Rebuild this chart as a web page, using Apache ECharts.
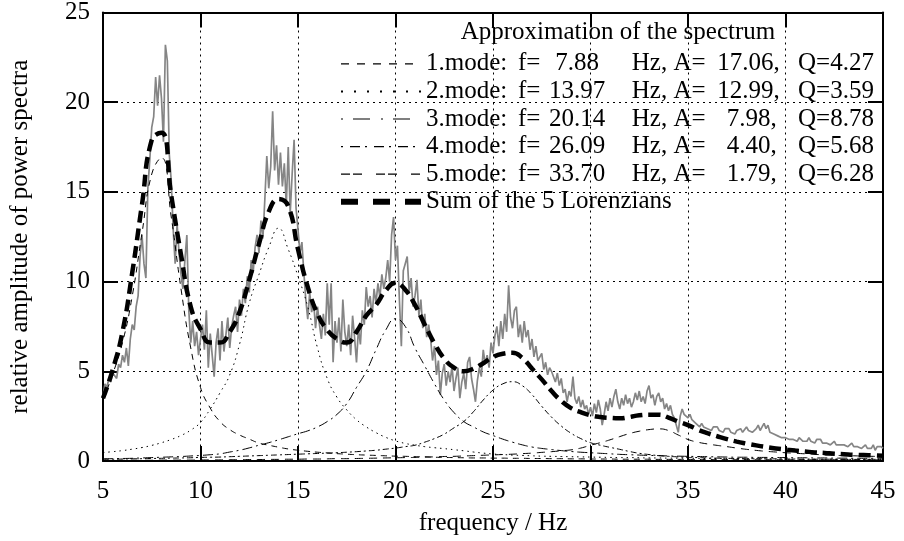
<!DOCTYPE html>
<html>
<head>
<meta charset="utf-8">
<script src="https://cdn.jsdelivr.net/npm/echarts@6/dist/echarts.min.js"></script>
<style>
  html, body { margin: 0; padding: 0; background: #fff; }
  #chart { width: 904px; height: 541px; }
</style>
</head>
<body>
<div id="chart"></div>
<script>
// measured spectrum, 5.0 .. 45.0 Hz in 0.1 Hz steps
const measuredStart = 5;
const measuredStep = 0.1;
const measured = [
  3.6, 4.3, 4.1, 4.6, 4.4, 4.9, 5.0, 4.6, 5.4, 5.2,
  5.9, 5.5, 6.3, 5.3, 6.8, 7.6, 7.3, 8.6, 9.2, 11.4,
  12.6, 11.0, 10.2, 15.2, 16.8, 18.6, 19.2, 21.4, 19.8, 21.5,
  20.2, 17.8, 23.2, 22.3, 17.1, 15.6, 12.9, 11.0, 13.2, 11.6,
  10.4, 9.6, 11.2, 12.6, 8.4, 6.6, 7.8, 6.4, 7.2, 5.9,
  6.8, 7.6, 6.2, 8.4, 5.2, 7.1, 5.9, 4.7, 6.6, 7.4,
  5.6, 7.8, 6.1, 7.0, 8.0, 6.3, 7.5, 8.1, 8.6, 7.2,
  9.0, 8.1, 9.6, 8.8, 10.3, 9.4, 11.2, 10.5, 11.9, 12.6,
  11.6, 13.4, 12.4, 14.6, 17.0, 15.2, 16.4, 19.5, 16.2, 17.6,
  15.4, 17.2, 15.3, 16.6, 14.2, 17.5, 13.8, 16.0, 17.9, 14.1,
  12.9, 11.6, 12.2, 10.5, 9.0, 7.9, 9.4, 8.3, 8.9, 7.4,
  8.6, 7.6, 6.8, 8.2, 7.0, 9.9, 7.6, 9.9, 5.5, 7.8,
  6.6, 8.0, 6.1, 9.0, 7.2, 6.4, 7.6, 5.9, 8.1, 6.9,
  5.5, 7.4, 6.5, 8.4, 7.6, 9.7, 8.6, 9.2, 8.0, 9.6,
  8.8, 9.9, 9.1, 10.4, 9.6, 10.2, 11.2, 10.0, 12.6, 13.6,
  11.2, 12.0, 9.0, 6.4, 10.6, 11.0, 11.4, 9.4, 10.2, 8.6,
  9.2, 10.1, 8.1, 9.0, 7.4, 8.2, 6.9, 7.6, 6.8, 5.6,
  6.4, 4.8, 5.6, 3.7, 4.9, 5.4, 4.2, 5.0, 4.4, 5.3,
  3.9, 4.6, 5.2, 3.5, 4.4, 4.9, 4.0, 5.5, 5.8, 4.6,
  4.0, 3.3, 4.5, 5.2, 4.7, 6.2, 5.4, 5.9, 5.2, 6.6,
  6.0, 7.0, 7.5, 6.4, 7.8, 6.8, 8.2, 7.2, 9.8, 8.0,
  7.4, 8.4, 8.6, 6.9, 7.6, 6.6, 7.8, 6.9, 7.3, 6.2,
  6.8, 5.8, 6.4, 5.6, 5.5, 6.0, 5.1, 5.5, 4.8, 5.2,
  5.0, 5.1, 4.4, 4.9, 4.2, 4.6, 3.8, 4.0, 3.3, 3.9,
  3.6, 4.7, 3.5, 3.2, 3.6, 3.0, 3.4, 2.9, 3.1, 2.6,
  3.0, 2.5, 3.2, 2.7, 3.4, 2.9, 2.0, 2.6, 3.3, 2.8,
  3.5, 3.0, 3.6, 4.0, 3.3, 2.9, 3.5, 3.1, 3.7, 3.2,
  3.5, 3.0, 3.3, 3.8, 3.4, 3.9, 3.3, 3.6, 3.2, 3.9,
  4.2, 3.5, 3.7, 3.1, 3.6, 3.8, 3.3, 3.5, 2.9, 3.2,
  2.8, 3.1, 2.6, 2.4, 2.0, 1.6, 2.5, 2.9, 2.6, 2.7,
  2.4, 2.6, 2.3, 2.4, 2.1, 2.2, 1.9, 2.1, 1.9, 2.0,
  1.8, 1.9, 1.7, 1.9, 1.8, 1.9, 1.7, 1.8, 1.6, 1.8,
  1.7, 1.8, 1.6, 1.7, 1.5, 1.7, 1.6, 1.8, 1.6, 1.7,
  1.9, 1.7, 1.8, 1.6, 1.7, 1.8, 2.0, 1.7, 1.9, 2.1,
  1.8, 2.0, 1.6, 1.7, 1.5, 1.6, 1.4, 1.5, 1.3, 1.4,
  1.3, 1.4, 1.2, 1.3, 1.2, 1.3, 1.1, 1.3, 1.2, 1.1,
  1.2, 1.1, 1.3, 1.1, 1.2, 1.0, 1.2, 1.1, 1.2, 1.0,
  1.1, 1.0, 1.1, 0.9, 1.0, 1.1, 0.9, 1.0, 0.9, 1.0,
  0.9, 1.0, 0.8, 0.9, 1.0, 0.8, 0.9, 0.8, 0.9, 0.7,
  0.8, 0.9, 0.7, 0.8, 0.7, 0.9, 0.6, 0.8, 0.7, 0.8,
  0.7
];

// fitted curves, 5.0 .. 45.0 Hz in 0.5 Hz steps
const modelStart = 5;
const modelStep = 0.5;
const mode1 = [
  3.4, 4.85, 6.6, 9.2, 12.7, 16.0, 16.9, 13.6, 9.6, 6.3,
  4.1, 2.95, 2.2, 1.75, 1.45, 1.22, 1.0, 0.88, 0.77, 0.67,
  0.6, 0.54, 0.49, 0.45, 0.41, 0.38, 0.35, 0.33, 0.31, 0.29,
  0.27, 0.26, 0.24, 0.23, 0.21, 0.2, 0.19, 0.18, 0.17, 0.17,
  0.16, 0.16, 0.15, 0.15, 0.14, 0.14, 0.13, 0.13, 0.12, 0.12,
  0.11, 0.11, 0.11, 0.1, 0.1, 0.1, 0.1, 0.09, 0.09, 0.09,
  0.09, 0.08, 0.08, 0.08, 0.08, 0.08, 0.08, 0.07, 0.07, 0.07,
  0.07, 0.07, 0.07, 0.07, 0.07, 0.07, 0.06, 0.06, 0.06, 0.06,
  0.06
];
const mode2 = [
  0.47, 0.52, 0.58, 0.66, 0.75, 0.87, 1.02, 1.2, 1.42, 1.72,
  2.15, 2.9, 3.8, 4.8, 6.5, 8.8, 10.4, 11.9, 12.98, 11.8,
  10.3, 8.6, 6.3, 4.6, 3.55, 2.85, 2.3, 1.9, 1.58, 1.32,
  1.12, 0.98, 0.88, 0.8, 0.74, 0.69, 0.63, 0.57, 0.5, 0.44,
  0.39, 0.36, 0.33, 0.31, 0.29, 0.27, 0.26, 0.25, 0.24, 0.23,
  0.22, 0.21, 0.2, 0.19, 0.19, 0.18, 0.17, 0.17, 0.16, 0.16,
  0.15, 0.15, 0.14, 0.14, 0.13, 0.13, 0.12, 0.12, 0.12, 0.11,
  0.11, 0.11, 0.1, 0.1, 0.1, 0.1, 0.09, 0.09, 0.09, 0.09,
  0.09
];
const mode3 = [
  0.12, 0.13, 0.14, 0.15, 0.17, 0.19, 0.21, 0.23, 0.25, 0.28,
  0.31, 0.35, 0.4, 0.5, 0.6, 0.73, 0.88, 1.02, 1.18, 1.35,
  1.52, 1.68, 1.9, 2.2, 2.6, 3.2, 4.1, 5.0, 6.2, 7.3,
  7.93, 7.5, 6.3, 5.3, 4.3, 3.4, 2.7, 2.2, 1.9, 1.62,
  1.42, 1.22, 1.05, 0.9, 0.78, 0.7, 0.64, 0.58, 0.53, 0.49,
  0.46, 0.43, 0.4, 0.37, 0.35, 0.33, 0.31, 0.3, 0.28, 0.27,
  0.26, 0.25, 0.24, 0.23, 0.22, 0.21, 0.21, 0.2, 0.2, 0.19,
  0.19, 0.18, 0.18, 0.17, 0.17, 0.16, 0.16, 0.15, 0.15, 0.15,
  0.15
];
const mode4 = [
  0.1, 0.1, 0.11, 0.12, 0.13, 0.14, 0.15, 0.16, 0.17, 0.18,
  0.2, 0.21, 0.22, 0.24, 0.26, 0.28, 0.3, 0.32, 0.34, 0.36,
  0.38, 0.4, 0.42, 0.44, 0.46, 0.49, 0.52, 0.56, 0.6, 0.66,
  0.72, 0.8, 0.88, 1.05, 1.25, 1.5, 1.85, 2.2, 2.75, 3.4,
  3.95, 4.3, 4.42, 4.2, 3.7, 3.05, 2.45, 1.95, 1.55, 1.25,
  1.02, 0.88, 0.76, 0.65, 0.53, 0.43, 0.36, 0.3, 0.26, 0.23,
  0.2, 0.19, 0.17, 0.16, 0.15, 0.14, 0.13, 0.13, 0.12, 0.12,
  0.11, 0.11, 0.1, 0.1, 0.1, 0.1, 0.09, 0.09, 0.09, 0.09,
  0.08
];
const mode5 = [
  0.03, 0.03, 0.04, 0.04, 0.04, 0.04, 0.05, 0.05, 0.05, 0.05,
  0.06, 0.06, 0.06, 0.07, 0.07, 0.08, 0.08, 0.09, 0.09, 0.1,
  0.1, 0.11, 0.11, 0.12, 0.13, 0.13, 0.14, 0.15, 0.16, 0.17,
  0.18, 0.19, 0.2, 0.22, 0.23, 0.25, 0.26, 0.28, 0.3, 0.32,
  0.34, 0.36, 0.38, 0.41, 0.44, 0.48, 0.52, 0.57, 0.62, 0.72,
  0.88, 1.02, 1.18, 1.36, 1.53, 1.66, 1.75, 1.79, 1.7, 1.45,
  1.2, 1.05, 0.95, 0.87, 0.8, 0.72, 0.65, 0.59, 0.54, 0.5,
  0.46, 0.43, 0.4, 0.37, 0.34, 0.32, 0.3, 0.29, 0.27, 0.26,
  0.25
];
const sumCurve = [
  3.5, 5.1, 7.2, 10.5, 14.3, 17.9, 18.3, 14.8, 11.5, 8.6,
  7.35, 6.6, 6.6, 7.2, 8.3, 10.1, 12.1, 13.9, 14.6, 14.2,
  11.8, 9.7, 8.2, 7.3, 6.8, 6.6, 7.2, 8.1, 8.7, 9.5,
  9.93, 9.55, 8.7, 7.6, 6.55, 5.7, 5.2, 5.0, 5.15, 5.45,
  5.8, 5.98, 6.03, 5.75, 5.15, 4.55, 3.9, 3.35, 2.95, 2.72,
  2.55, 2.45, 2.4, 2.38, 2.45, 2.55, 2.58, 2.58, 2.42, 2.2,
  2.0, 1.75, 1.55, 1.38, 1.22, 1.08, 0.97, 0.87, 0.78, 0.7,
  0.64, 0.58, 0.53, 0.48, 0.45, 0.41, 0.38, 0.35, 0.33, 0.31,
  0.29
];

// legend texts
const modeFreq = [' 7.88', '13.97', '20.14', '26.09', '33.70'];
const modeAmp = ['17.06', '12.99', '7.98', '4.40', '1.79'];
const modeQ = ['4.27', '3.59', '8.78', '5.68', '6.28'];
const sumName = 'Sum of the 5 Lorenzians';
const keyTitle = 'Approximation of the spectrum';

const xTicks = { min: 5, max: 45, step: 5 };
const yTicks = { min: 0, max: 25, step: 5 };

const FONT = 'Liberation Serif';
const modeNames = modeFreq.map((f, i) => (i + 1) + '.mode: f=' + f + ' Hz, A= ' + modeAmp[i] + ', Q=' + modeQ[i]);

function toPairs(values, start, step) {
  return values.map((v, i) => [+(start + i * step).toFixed(2), v]);
}

function seg(width, align) {
  return { width: width, align: align || 'left', fontFamily: FONT, fontSize: 25, color: '#000', lineHeight: 27.6 };
}

// line styles in the plot, and the samples in the key
const modeDash = [[6, 5], [1.5, 4], [10, 4, 2, 4], [6, 3, 2, 3], [8, 6]];
const keyDash = [[8, 8], [2, 11], [2, 10, 17, 11], [2, 7, 10, 5], [9, 3, 9, 14]];
const modeData = [mode1, mode2, mode3, mode4, mode5];

var chart = echarts.init(document.getElementById('chart'));

var axisCommon = {
  type: 'value',
  axisLine: { show: true, onZero: false, lineStyle: { color: '#000', width: 2 } },
  axisTick: { show: true, inside: true, length: 15, lineStyle: { color: '#000', width: 2 } }
};

var series = [{
  name: 'measured',
  type: 'line',
  data: toPairs(measured, measuredStart, measuredStep),
  showSymbol: false,
  symbol: 'none',
  lineStyle: { color: '#858585', width: 1.7 },
  z: 1
}];
modeData.forEach((arr, i) => {
  series.push({
    name: modeNames[i],
    type: 'line',
    data: toPairs(arr, modelStart, modelStep),
    smooth: true,
    symbol: 'none',
    lineStyle: { color: '#000', width: 1, type: modeDash[i] },
    itemStyle: { color: '#000' },
    z: 2
  });
});
series.push({
  name: sumName,
  type: 'line',
  data: toPairs(sumCurve, modelStart, modelStep),
  smooth: true,
  symbol: 'none',
  lineStyle: { color: '#000', width: 4.5, type: [12, 6] },
  itemStyle: { color: '#000' },
  z: 3
});

// key samples: line only, the symbol hidden
var legendData = modeNames.map((n, i) => ({
  name: n,
  itemStyle: { opacity: 0 },
  lineStyle: { color: '#000', width: i === 1 ? 2 : 1.2, type: keyDash[i] }
}));
legendData.push({ name: sumName, itemStyle: { opacity: 0 }, lineStyle: { color: '#000', width: 6, type: [17, 15] } });

var option = {
  animation: false,
  backgroundColor: '#fff',
  textStyle: { fontFamily: FONT, color: '#000' },
  grid: { left: 102, right: 21, top: 12, bottom: 79, containLabel: false },
  graphic: [{
    type: 'text',
    x: 618,
    y: 32,
    style: { text: keyTitle, fontFamily: FONT, fontSize: 25, fill: '#000', textAlign: 'center', textVerticalAlign: 'middle' }
  }],
  legend: {
    orient: 'vertical',
    left: 333,
    top: 45,
    itemWidth: 80,
    itemHeight: 27.6,
    itemGap: 0,
    selectedMode: false,
    data: legendData,
    formatter: function (name) {
      var i = modeNames.indexOf(name);
      if (i < 0) return name;
      var amp = modeAmp[i].length < 5 ? ' ' + modeAmp[i] : modeAmp[i];
      return '{m|' + (i + 1) + '.mode:}{f|f=}{v|' + modeFreq[i].trim() + '}{s| }{h|Hz,}{a|A=}{w|' + amp + ',}{q|Q=' + modeQ[i] + '}';
    },
    textStyle: {
      fontFamily: FONT, fontSize: 25, color: '#000', lineHeight: 27.6,
      rich: {
        m: seg(92), f: seg(24), v: seg(70, 'right'), s: seg(14), h: seg(47),
        a: seg(33), w: seg(85), q: seg(90)
      }
    }
  },
  xAxis: [
    Object.assign({}, axisCommon, {
      position: 'bottom',
      min: xTicks.min, max: xTicks.max, interval: xTicks.step,
      name: 'frequency / Hz',
      nameLocation: 'middle',
      nameGap: 50,
      nameTextStyle: { fontFamily: FONT, fontSize: 25, color: '#000' },
      axisLabel: { fontFamily: FONT, fontSize: 25, color: '#000', margin: 18, showMinLabel: true, showMaxLabel: true },
      splitLine: { show: true, lineStyle: { color: '#000', width: 1, type: [2, 4] } }
    }),
    Object.assign({}, axisCommon, {
      position: 'top',
      min: xTicks.min, max: xTicks.max, interval: xTicks.step,
      axisLabel: { show: false },
      splitLine: { show: false }
    })
  ],
  yAxis: [
    Object.assign({}, axisCommon, {
      position: 'left',
      min: yTicks.min, max: yTicks.max, interval: yTicks.step,
      name: 'relative amplitude of power spectra',
      nameLocation: 'middle',
      nameGap: 70,
      nameTextStyle: { fontFamily: FONT, fontSize: 25, color: '#000' },
      axisLabel: { fontFamily: FONT, fontSize: 25, color: '#000', margin: 13, showMinLabel: true, showMaxLabel: true },
      splitLine: { show: true, lineStyle: { color: '#000', width: 1, type: [2, 4] } }
    }),
    Object.assign({}, axisCommon, {
      position: 'right',
      min: yTicks.min, max: yTicks.max, interval: yTicks.step,
      axisLabel: { show: false },
      splitLine: { show: false }
    })
  ],
  series: series
};

chart.setOption(option);
</script>
</body>
</html>
